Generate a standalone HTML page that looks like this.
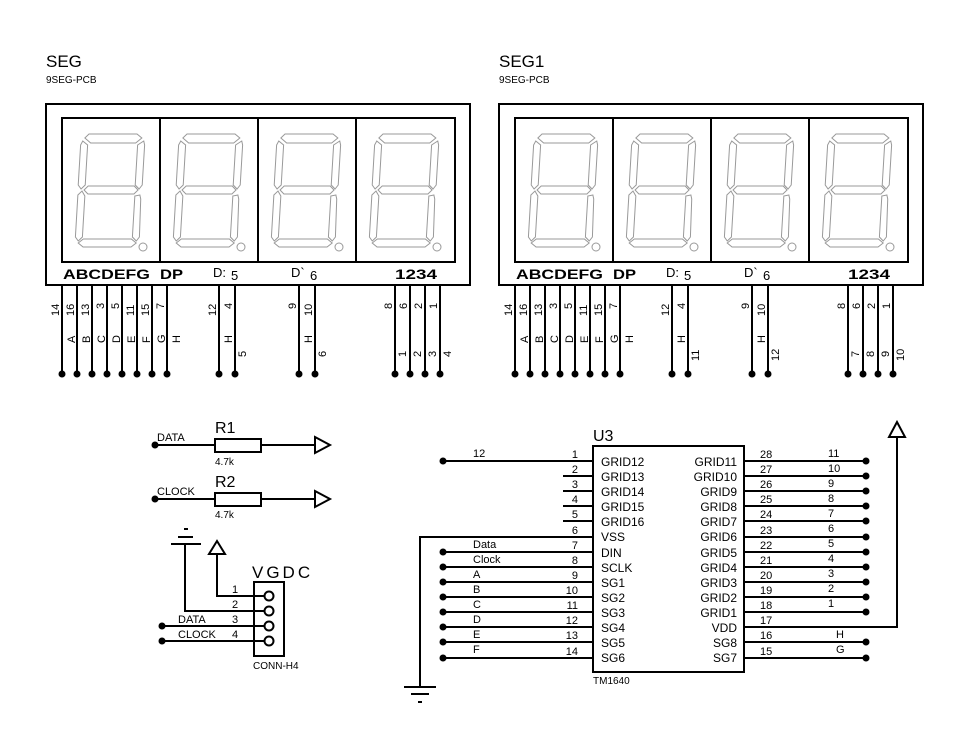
<!DOCTYPE html>
<html><head><meta charset="utf-8"><style>
html,body{margin:0;padding:0;background:#fff}
svg{display:block}
text{font-family:"Liberation Sans",sans-serif;fill:#000}
</style></head><body>
<svg width="977" height="737" viewBox="0 0 977 737" xmlns="http://www.w3.org/2000/svg">
<defs>
<g id="dig0" fill="none" stroke="#999" stroke-width="1">
<polygon points="9,0 57,0 62,4 56,9 11,9 5,4"/>
<polygon points="3,7 8,11 7,51 3,55 0,51 1,11"/>
<polygon points="64,7 58,11 57,51 61,55 64,51 65,11"/>
<polygon points="6,56 10,52 56,52 60,56 56,60 10,60"/>
<polygon points="0,61 4,57 7,62 6,103 2,107 -1,103"/>
<polygon points="62,61 57,62 56,103 60,107 63,103 63,65"/>
<polygon points="7,113 2,109 7,105 55,105 60,109 55,113"/>
</g>
<g id="dig">
<g transform="translate(3,0) skewX(-2)"><use href="#dig0"/></g>
<circle cx="66" cy="113" r="4" fill="none" stroke="#999" stroke-width="1"/>
</g>
<g id="disp">
<rect x="46" y="104" width="424" height="181" fill="none" stroke="#000" stroke-width="2"/>
<rect x="62" y="118" width="393" height="144" fill="none" stroke="#000" stroke-width="2"/>
<line x1="160" y1="118" x2="160" y2="262" stroke="#000" stroke-width="2"/>
<line x1="258" y1="118" x2="258" y2="262" stroke="#000" stroke-width="2"/>
<line x1="356" y1="118" x2="356" y2="262" stroke="#000" stroke-width="2"/>
<use href="#dig" x="77" y="134"/>
<use href="#dig" x="175" y="134"/>
<use href="#dig" x="273" y="134"/>
<use href="#dig" x="371" y="134"/>
<text x="63" y="279" font-size="14" font-weight="bold" textLength="87" lengthAdjust="spacingAndGlyphs">ABCDEFG</text>
<text x="160" y="279" font-size="14" font-weight="bold" textLength="23" lengthAdjust="spacingAndGlyphs">DP</text>
<text x="213" y="277" font-size="13">D:</text><text x="231" y="280" font-size="13">5</text>
<text x="291" y="277" font-size="13">D`</text><text x="310" y="280" font-size="13">6</text>
<text x="395" y="279" font-size="14" font-weight="bold" textLength="42" lengthAdjust="spacingAndGlyphs">1234</text>
<g stroke="#000" stroke-width="2">
<line x1="62" y1="285" x2="62" y2="373"/><line x1="77" y1="285" x2="77" y2="373"/>
<line x1="92" y1="285" x2="92" y2="373"/><line x1="107" y1="285" x2="107" y2="373"/>
<line x1="122" y1="285" x2="122" y2="373"/><line x1="137" y1="285" x2="137" y2="373"/>
<line x1="152" y1="285" x2="152" y2="373"/><line x1="167" y1="285" x2="167" y2="373"/>
<line x1="219" y1="285" x2="219" y2="373"/><line x1="235" y1="285" x2="235" y2="373"/>
<line x1="299" y1="285" x2="299" y2="373"/><line x1="315" y1="285" x2="315" y2="373"/>
<line x1="395" y1="285" x2="395" y2="373"/><line x1="410" y1="285" x2="410" y2="373"/>
<line x1="425" y1="285" x2="425" y2="373"/><line x1="440" y1="285" x2="440" y2="373"/>
</g>
<g fill="#000">
<circle cx="62" cy="374" r="3.5"/><circle cx="77" cy="374" r="3.5"/><circle cx="92" cy="374" r="3.5"/><circle cx="107" cy="374" r="3.5"/>
<circle cx="122" cy="374" r="3.5"/><circle cx="137" cy="374" r="3.5"/><circle cx="152" cy="374" r="3.5"/><circle cx="167" cy="374" r="3.5"/>
<circle cx="219" cy="374" r="3.5"/><circle cx="235" cy="374" r="3.5"/><circle cx="299" cy="374" r="3.5"/><circle cx="315" cy="374" r="3.5"/>
<circle cx="395" cy="374" r="3.5"/><circle cx="410" cy="374" r="3.5"/><circle cx="425" cy="374" r="3.5"/><circle cx="440" cy="374" r="3.5"/>
</g>
</g>
</defs>

<!-- SEG -->
<text x="46" y="67" font-size="17">SEG</text>
<text x="46" y="83" font-size="10">9SEG-PCB</text>
<use href="#disp"/>
<g font-size="11">
<text transform="translate(59,316) rotate(-90)">14</text>
<text transform="translate(74,316) rotate(-90)">16</text>
<text transform="translate(89,316) rotate(-90)">13</text>
<text transform="translate(104,309) rotate(-90)">3</text>
<text transform="translate(119,309) rotate(-90)">5</text>
<text transform="translate(134,316) rotate(-90)">11</text>
<text transform="translate(149,316) rotate(-90)">15</text>
<text transform="translate(164,309) rotate(-90)">7</text>
<text transform="translate(216,316) rotate(-90)">12</text>
<text transform="translate(232,309) rotate(-90)">4</text>
<text transform="translate(296,309) rotate(-90)">9</text>
<text transform="translate(312,316) rotate(-90)">10</text>
<text transform="translate(392,309) rotate(-90)">8</text>
<text transform="translate(407,309) rotate(-90)">6</text>
<text transform="translate(422,309) rotate(-90)">2</text>
<text transform="translate(437,309) rotate(-90)">1</text>
<text transform="translate(75,343) rotate(-90)">A</text>
<text transform="translate(90,343) rotate(-90)">B</text>
<text transform="translate(105,343) rotate(-90)">C</text>
<text transform="translate(120,343) rotate(-90)">D</text>
<text transform="translate(135,343) rotate(-90)">E</text>
<text transform="translate(150,343) rotate(-90)">F</text>
<text transform="translate(165,343) rotate(-90)">G</text>
<text transform="translate(180,343) rotate(-90)">H</text>
<text transform="translate(232,343) rotate(-90)">H</text>
<text transform="translate(246,357) rotate(-90)">5</text>
<text transform="translate(312,343) rotate(-90)">H</text>
<text transform="translate(326,357) rotate(-90)">6</text>
<text transform="translate(406,357) rotate(-90)">1</text>
<text transform="translate(421,357) rotate(-90)">2</text>
<text transform="translate(436,357) rotate(-90)">3</text>
<text transform="translate(451,357) rotate(-90)">4</text>
</g>

<!-- SEG1 -->
<text x="499" y="67" font-size="17">SEG1</text>
<text x="499" y="83" font-size="10">9SEG-PCB</text>
<use href="#disp" x="453"/>
<g font-size="11">
<text transform="translate(512,316) rotate(-90)">14</text>
<text transform="translate(527,316) rotate(-90)">16</text>
<text transform="translate(542,316) rotate(-90)">13</text>
<text transform="translate(557,309) rotate(-90)">3</text>
<text transform="translate(572,309) rotate(-90)">5</text>
<text transform="translate(587,316) rotate(-90)">11</text>
<text transform="translate(602,316) rotate(-90)">15</text>
<text transform="translate(617,309) rotate(-90)">7</text>
<text transform="translate(669,316) rotate(-90)">12</text>
<text transform="translate(685,309) rotate(-90)">4</text>
<text transform="translate(749,309) rotate(-90)">9</text>
<text transform="translate(765,316) rotate(-90)">10</text>
<text transform="translate(845,309) rotate(-90)">8</text>
<text transform="translate(860,309) rotate(-90)">6</text>
<text transform="translate(875,309) rotate(-90)">2</text>
<text transform="translate(890,309) rotate(-90)">1</text>
<text transform="translate(528,343) rotate(-90)">A</text>
<text transform="translate(543,343) rotate(-90)">B</text>
<text transform="translate(558,343) rotate(-90)">C</text>
<text transform="translate(573,343) rotate(-90)">D</text>
<text transform="translate(588,343) rotate(-90)">E</text>
<text transform="translate(603,343) rotate(-90)">F</text>
<text transform="translate(618,343) rotate(-90)">G</text>
<text transform="translate(633,343) rotate(-90)">H</text>
<text transform="translate(685,343) rotate(-90)">H</text>
<text transform="translate(699,361) rotate(-90)">11</text>
<text transform="translate(765,343) rotate(-90)">H</text>
<text transform="translate(779,361) rotate(-90)">12</text>
<text transform="translate(859,357) rotate(-90)">7</text>
<text transform="translate(874,357) rotate(-90)">8</text>
<text transform="translate(889,357) rotate(-90)">9</text>
<text transform="translate(904,361) rotate(-90)">10</text>
</g>

<!-- Resistors -->
<g stroke="#000" stroke-width="2" fill="none">
<line x1="155" y1="445" x2="215" y2="445"/><rect x="215" y="439" width="46" height="13" fill="#fff"/><line x1="261" y1="445" x2="315" y2="445"/>
<polygon points="315,437 330,445 315,453"/>
<line x1="155" y1="499" x2="215" y2="499"/><rect x="215" y="493" width="46" height="13" fill="#fff"/><line x1="261" y1="499" x2="315" y2="499"/>
<polygon points="315,491 330,499 315,507"/>
</g>
<circle cx="155" cy="445" r="3.5"/><circle cx="155" cy="499" r="3.5"/>
<text x="157" y="441" font-size="11">DATA</text>
<text x="157" y="495" font-size="11">CLOCK</text>
<text x="215" y="433" font-size="16">R1</text>
<text x="215" y="465" font-size="10">4.7k</text>
<text x="215" y="487" font-size="16">R2</text>
<text x="215" y="518" font-size="10">4.7k</text>

<!-- Connector -->
<g stroke="#000" stroke-width="2" fill="none">
<line x1="171" y1="544" x2="201" y2="544"/>
<line x1="178" y1="537" x2="193" y2="537"/>
<line x1="184" y1="529" x2="188" y2="529"/>
<polyline points="185,544 185,611 264,611"/>
<polygon points="217,541 209,554 225,554"/>
<polyline points="217,554 217,596 264,596"/>
<line x1="162" y1="626" x2="264" y2="626"/>
<line x1="162" y1="641" x2="264" y2="641"/>
<rect x="254" y="582" width="30" height="74"/>
<circle cx="269" cy="596" r="4.5" fill="#fff"/><circle cx="269" cy="611" r="4.5" fill="#fff"/>
<circle cx="269" cy="626" r="4.5" fill="#fff"/><circle cx="269" cy="641" r="4.5" fill="#fff"/>
</g>
<circle cx="162" cy="626" r="3.5"/><circle cx="162" cy="641" r="3.5"/>
<g font-size="11">
<text x="232" y="593">1</text><text x="232" y="608">2</text><text x="232" y="623">3</text><text x="232" y="638">4</text>
<text x="178" y="623">DATA</text><text x="178" y="638">CLOCK</text>
<text x="253" y="669" font-size="10">CONN-H4</text>
</g>
<text x="252" y="578" font-size="17" letter-spacing="3">VGDC</text>

<!-- U3 -->
<text x="593" y="441" font-size="16">U3</text>
<text x="593" y="684" font-size="10">TM1640</text>
<g stroke="#000" stroke-width="2" fill="none">
<rect x="593" y="446" width="151" height="226"/>
<line x1="443" y1="461" x2="593" y2="461"/>
<line x1="563" y1="476" x2="593" y2="476"/>
<line x1="563" y1="491" x2="593" y2="491"/>
<line x1="563" y1="506" x2="593" y2="506"/>
<line x1="563" y1="521" x2="593" y2="521"/>
<polyline points="593,537 420,537 420,687"/>
<line x1="404" y1="687" x2="436" y2="687"/>
<line x1="411" y1="694" x2="429" y2="694"/>
<line x1="418" y1="702" x2="422" y2="702"/>
<line x1="443" y1="552" x2="593" y2="552"/>
<line x1="443" y1="567" x2="593" y2="567"/>
<line x1="443" y1="582" x2="593" y2="582"/>
<line x1="443" y1="597" x2="593" y2="597"/>
<line x1="443" y1="612" x2="593" y2="612"/>
<line x1="443" y1="627" x2="593" y2="627"/>
<line x1="443" y1="642" x2="593" y2="642"/>
<line x1="443" y1="658" x2="593" y2="658"/>
<line x1="744" y1="461" x2="866" y2="461"/>
<line x1="744" y1="476" x2="866" y2="476"/>
<line x1="744" y1="491" x2="866" y2="491"/>
<line x1="744" y1="506" x2="866" y2="506"/>
<line x1="744" y1="521" x2="866" y2="521"/>
<line x1="744" y1="537" x2="866" y2="537"/>
<line x1="744" y1="552" x2="866" y2="552"/>
<line x1="744" y1="567" x2="866" y2="567"/>
<line x1="744" y1="582" x2="866" y2="582"/>
<line x1="744" y1="597" x2="866" y2="597"/>
<line x1="744" y1="612" x2="866" y2="612"/>
<polyline points="744,627 897,627 897,437"/>
<polygon points="897,422 889,437 905,437"/>
<line x1="744" y1="642" x2="866" y2="642"/>
<line x1="744" y1="658" x2="866" y2="658"/>
</g>
<g fill="#000">
<circle cx="443" cy="461" r="3.5"/>
<circle cx="443" cy="552" r="3.5"/><circle cx="443" cy="567" r="3.5"/><circle cx="443" cy="582" r="3.5"/><circle cx="443" cy="597" r="3.5"/>
<circle cx="443" cy="612" r="3.5"/><circle cx="443" cy="627" r="3.5"/><circle cx="443" cy="642" r="3.5"/><circle cx="443" cy="658" r="3.5"/>
<circle cx="866" cy="461" r="3.5"/><circle cx="866" cy="476" r="3.5"/><circle cx="866" cy="491" r="3.5"/><circle cx="866" cy="506" r="3.5"/>
<circle cx="866" cy="521" r="3.5"/><circle cx="866" cy="537" r="3.5"/><circle cx="866" cy="552" r="3.5"/><circle cx="866" cy="567" r="3.5"/>
<circle cx="866" cy="582" r="3.5"/><circle cx="866" cy="597" r="3.5"/><circle cx="866" cy="612" r="3.5"/>
<circle cx="866" cy="642" r="3.5"/><circle cx="866" cy="658" r="3.5"/>
</g>
<g font-size="11">
<g text-anchor="end">
<text x="578" y="458">1</text><text x="578" y="473">2</text><text x="578" y="488">3</text><text x="578" y="503">4</text>
<text x="578" y="518">5</text><text x="578" y="534">6</text><text x="578" y="549">7</text><text x="578" y="564">8</text>
<text x="578" y="579">9</text><text x="578" y="594">10</text><text x="578" y="609">11</text><text x="578" y="624">12</text>
<text x="578" y="639">13</text><text x="578" y="655">14</text>
</g>
<text x="473" y="457">12</text>
<text x="473" y="548">Data</text><text x="473" y="563">Clock</text><text x="473" y="578">A</text><text x="473" y="593">B</text>
<text x="473" y="608">C</text><text x="473" y="623">D</text><text x="473" y="638">E</text><text x="473" y="653">F</text>
<text x="760" y="458">28</text><text x="760" y="473">27</text><text x="760" y="488">26</text><text x="760" y="503">25</text>
<text x="760" y="518">24</text><text x="760" y="534">23</text><text x="760" y="549">22</text><text x="760" y="564">21</text>
<text x="760" y="579">20</text><text x="760" y="594">19</text><text x="760" y="609">18</text><text x="760" y="624">17</text>
<text x="760" y="639">16</text><text x="760" y="655">15</text>
<text x="828" y="457">11</text><text x="828" y="472">10</text><text x="828" y="487">9</text><text x="828" y="502">8</text>
<text x="828" y="517">7</text><text x="828" y="532">6</text><text x="828" y="547">5</text><text x="828" y="562">4</text>
<text x="828" y="577">3</text><text x="828" y="592">2</text><text x="828" y="607">1</text>
<text x="836" y="638">H</text><text x="836" y="653">G</text>
</g>
<g font-size="12">
<text x="601" y="466">GRID12</text><text x="601" y="481">GRID13</text><text x="601" y="496">GRID14</text><text x="601" y="511">GRID15</text>
<text x="601" y="526">GRID16</text><text x="601" y="541">VSS</text><text x="601" y="557">DIN</text><text x="601" y="572">SCLK</text>
<text x="601" y="587">SG1</text><text x="601" y="602">SG2</text><text x="601" y="617">SG3</text><text x="601" y="632">SG4</text>
<text x="601" y="647">SG5</text><text x="601" y="662">SG6</text>
<g text-anchor="end">
<text x="737" y="466">GRID11</text><text x="737" y="481">GRID10</text><text x="737" y="496">GRID9</text><text x="737" y="511">GRID8</text>
<text x="737" y="526">GRID7</text><text x="737" y="541">GRID6</text><text x="737" y="557">GRID5</text><text x="737" y="572">GRID4</text>
<text x="737" y="587">GRID3</text><text x="737" y="602">GRID2</text><text x="737" y="617">GRID1</text><text x="737" y="632">VDD</text>
<text x="737" y="647">SG8</text><text x="737" y="662">SG7</text>
</g>
</g>
</svg>
</body></html>
